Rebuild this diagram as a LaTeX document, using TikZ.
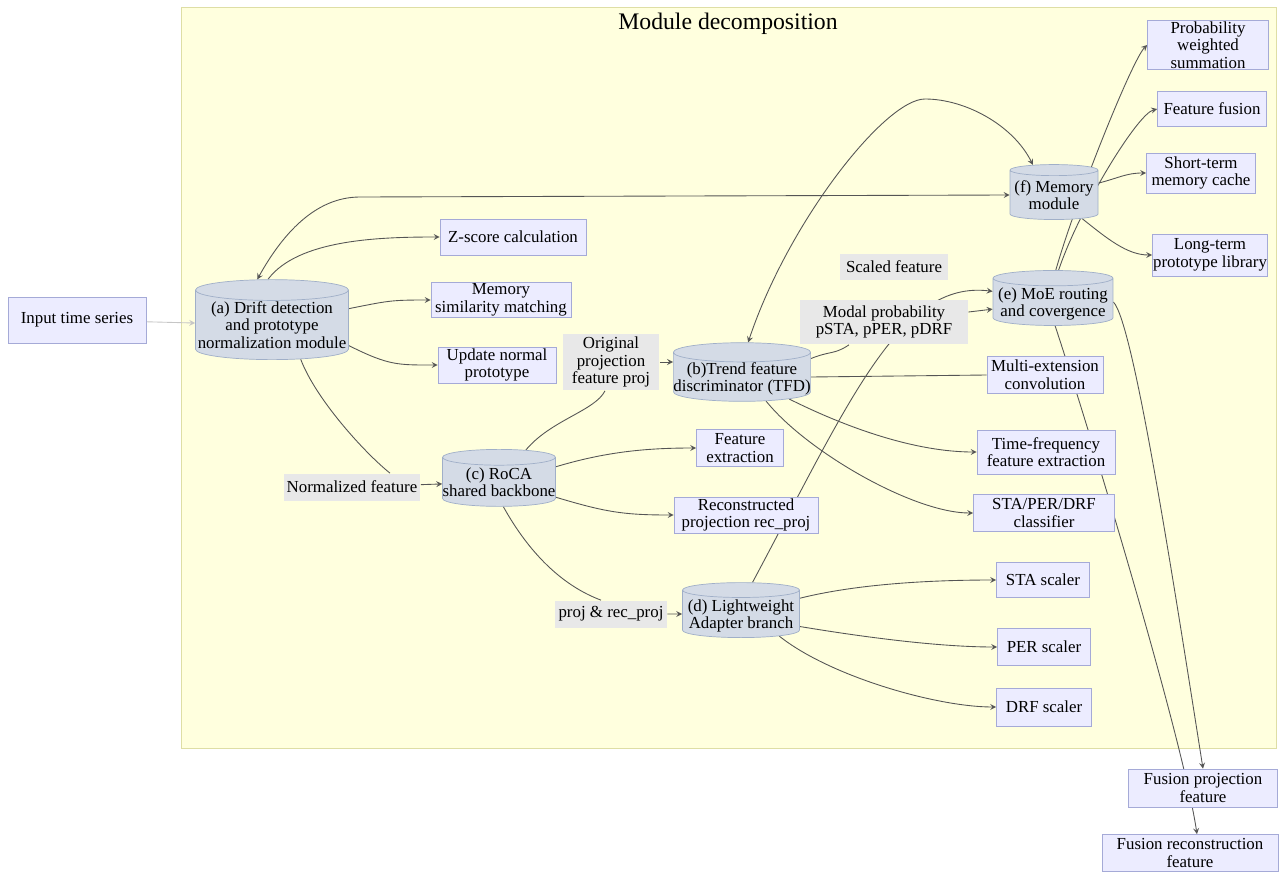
\documentclass[tikz,border=0pt]{standalone}
\usepackage{fontspec}
\setmainfont{Liberation Serif}
\usepackage{xcolor}
\usepackage{tikz}
\usetikzlibrary{shapes.geometric, arrows, calc}
\definecolor{grpfill}{RGB}{255, 255, 222}
\definecolor{grpline}{RGB}{222, 222, 165}
\definecolor{boxfill}{RGB}{236, 236, 255}
\definecolor{boxline}{RGB}{165, 170, 215}
\definecolor{dbfill}{RGB}{212, 219, 230}
\definecolor{dbline}{RGB}{160, 175, 200}
\definecolor{lblfill}{RGB}{232, 232, 232}
\definecolor{edgecol}{RGB}{85, 85, 85}
\pgfdeclarelayer{background}
\pgfdeclarelayer{edges}
\pgfsetlayers{background,edges,main}

\begin{document}
\begin{tikzpicture}[x=0.02cm, y=-0.02cm, every node/.style={font=\fontsize{9.6}{10}\selectfont}]
\tikzstyle{proc} = [rectangle, align=center, inner sep=0pt, draw=boxline, fill=boxfill]
\tikzstyle{db} = [cylinder, shape border rotate=90, aspect=0.14, align=center, inner sep=0pt, text depth=-3pt, draw=dbline, fill=dbfill]
\tikzstyle{lbl} = [rectangle, align=center, inner sep=0pt, fill=lblfill]
\tikzstyle{arrow} = [line width=0.5pt, draw=edgecol, ->, >=stealth]
\tikzstyle{link} = [line width=0.5pt, draw=edgecol]
\useasboundingbox (0,0) rectangle (1282,872);

% Group
\begin{pgfonlayer}{background}
\node[rectangle, draw=grpline, fill=grpfill, minimum width=21.9cm, minimum height=14.82cm] (group) at (728.5,377.5) {};
\end{pgfonlayer}
\node[font=\fontsize{13.5}{15}\selectfont] (title) at (728,24) {Module decomposition};

% Input and drift module
\node[proc, minimum width=2.76cm, minimum height=0.92cm] (input) at (77,320) {Input time series};
\node[db, minimum width=3.06cm, minimum height=1.6cm] (drift) at (272,325) {(a) Drift detection\\and prototype\\normalization module};
\node[proc, minimum width=2.92cm, minimum height=0.72cm] (zscore) at (513,237) {Z-score calculation};
\node[proc, minimum width=2.8cm, minimum height=0.7cm] (memsim) at (501,300) {Memory\\similarity matching};
\node[proc, minimum width=2.36cm, minimum height=0.72cm] (update) at (497,365) {Update normal\\prototype};

% Backbone
\node[lbl, minimum width=2.74cm, minimum height=0.54cm] (normfeat) at (352,487) {Normalized feature};
\node[db, minimum width=2.24cm, minimum height=1.14cm] (roca) at (499,482) {(c) RoCA\\shared backbone};
\node[lbl, minimum width=1.94cm, minimum height=1.14cm] (origproj) at (611,362) {Original\\projection\\feature proj};
\node[proc, minimum width=1.74cm, minimum height=0.74cm] (featext) at (740,448) {Feature\\extraction};
\node[proc, minimum width=2.88cm, minimum height=0.72cm] (recproj) at (746,515) {Reconstructed\\projection rec\_proj};
\node[lbl, minimum width=2.24cm, minimum height=0.54cm] (projrec) at (611,614) {proj \& rec\_proj};

% Trend discriminator and adapter
\node[db, minimum width=2.7cm, minimum height=1.14cm] (tfd) at (742,377) {(b)Trend feature\\discriminator (TFD)};
\node[db, minimum width=2.34cm, minimum height=1.1cm] (adapter) at (741,614) {(d) Lightweight\\Adapter branch};
\node[proc, minimum width=2.32cm, minimum height=0.74cm] (multiext) at (1045,375) {Multi-extension\\convolution};
\node[proc, minimum width=2.76cm, minimum height=0.88cm] (timefreq) at (1046,452) {Time-frequency\\feature extraction};
\node[proc, minimum width=2.82cm, minimum height=0.74cm] (classif) at (1044,513) {STA/PER/DRF\\classifier};
\node[proc, minimum width=1.86cm, minimum height=0.7cm] (stascl) at (1043,580) {STA scaler};
\node[proc, minimum width=1.86cm, minimum height=0.74cm] (perscl) at (1044,647) {PER scaler};
\node[proc, minimum width=1.9cm, minimum height=0.76cm] (drfscl) at (1044,707) {DRF scaler};

% MoE and memory
\node[lbl, minimum width=2.16cm, minimum height=0.54cm] (scaled) at (894,267) {Scaled feature};
\node[lbl, minimum width=3.36cm, minimum height=0.9cm] (modal) at (884,322) {Modal probability\\pSTA, pPER, pDRF};
\node[db, minimum width=2.4cm, minimum height=1.1cm] (moe) at (1053,302) {(e) MoE routing\\and covergence};
\node[db, minimum width=1.76cm, minimum height=1.1cm] (memory) at (1054,195) {(f) Memory\\module};
\node[proc, minimum width=2.42cm, minimum height=0.98cm] (probsum) at (1208,45) {Probability\\weighted\\summation};
\node[proc, minimum width=2.18cm, minimum height=0.7cm] (fusion) at (1212,109) {Feature fusion};
\node[proc, minimum width=2.18cm, minimum height=0.8cm] (shortmem) at (1201,173) {Short-term\\memory cache};
\node[proc, minimum width=2.3cm, minimum height=0.84cm] (longmem) at (1210,255) {Long-term\\prototype library};

% Outputs
\node[proc, minimum width=2.98cm, minimum height=0.76cm] (fusproj) at (1203,788) {Fusion projection\\feature};
\node[proc, minimum width=3.52cm, minimum height=0.74cm] (fusrec) at (1190,853) {Fusion reconstruction\\feature};

% Edges
\begin{pgfonlayer}{edges}
\draw[arrow, draw=gray!45] (input) -- (drift);
\draw[arrow, <->] (drift.108) .. controls +(25,-45) and +(-45,0) .. (360,197) -- (memory.west);
\draw[arrow] (drift.95) .. controls +(30,-40) and +(-60,0) .. (zscore.west);
\draw[arrow] (drift.12) .. controls +(40,-8) and +(-40,0) .. (memsim.west);
\draw[arrow] (drift.-15) .. controls +(40,20) and +(-40,0) .. (update.west);
\draw[link] (drift.-50) .. controls +(15,40) and +(-25,-20) .. ($(normfeat.north)+(38,0)$);
\draw[arrow] (normfeat) -- (roca);
\draw[link] (roca.50) .. controls +(25,-30) and +(-10,20) .. ($(origproj.south)+(-6,0)$);
\draw[arrow] (origproj.east) -- (origproj.east -| tfd.west);
\draw[arrow] (roca.15) .. controls +(50,-15) and +(-50,0) .. (featext.west);
\draw[arrow] (roca.-15) .. controls +(50,15) and +(-50,0) .. (recproj.west);
\draw[link] (roca.-80) .. controls +(25,45) and +(-40,-15) .. ($(projrec.north)+(-10,0)$);
\draw[arrow] (projrec) -- (adapter);
\draw[link] (tfd.15) .. controls +(20,-8) and +(-15,10) .. ($(modal.south)+(-35,0)$);
\draw[arrow] (modal) -- (moe);
\draw[arrow] (adapter.70) .. controls (850,400) and (900,280) .. (moe.170);
\draw[arrow, <->] (tfd.80) .. controls +(40,-120) and +(-40,0) .. (925,99) .. controls +(40,0) and +(-20,-40) .. (memory.125);
\draw[link] (tfd.east) -- (multiext.west);
\draw[arrow] (tfd.-25) .. controls +(60,30) and +(-60,0) .. (timefreq.west);
\draw[arrow] (tfd.-45) .. controls +(40,50) and +(-60,0) .. (classif.west);
\draw[arrow] (adapter.15) .. controls +(60,-15) and +(-60,0) .. (stascl.west);
\draw[arrow] (adapter.-12) .. controls +(60,10) and +(-60,0) .. (perscl.west);
\draw[arrow] (adapter.-30) .. controls +(50,40) and +(-60,0) .. (drfscl.west);
\draw[arrow] (moe.85) .. controls +(20,-70) and +(-15,15) .. (probsum.west);
\draw[arrow] (moe.80) .. controls +(20,-60) and +(-20,5) .. (fusion.west);
\draw[arrow] (memory.15) .. controls +(20,-5) and +(-20,0) .. (shortmem.west);
\draw[arrow] (memory.-40) .. controls +(25,20) and +(-25,0) .. (longmem.west);
\draw[arrow] (moe.0) .. controls +(20,20) and +(-30,-190) .. (fusproj.north);
\draw[arrow] (moe.-85) .. controls +(30,90) and +(-15,-100) .. ($(fusrec.north)+(7,0)$);
\end{pgfonlayer}
\end{tikzpicture}
\end{document}
